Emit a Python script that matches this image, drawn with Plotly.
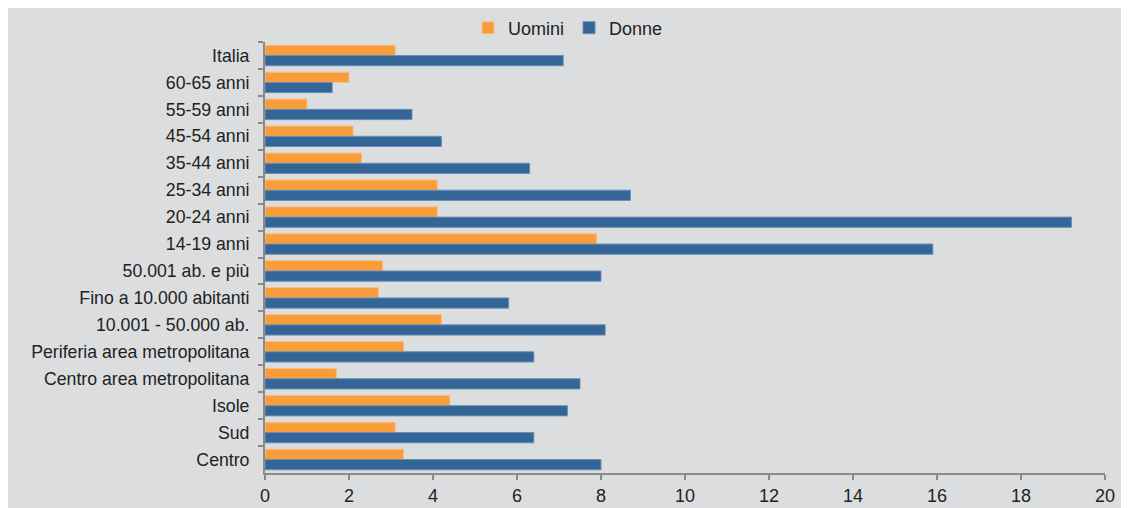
import plotly.graph_objects as go

categories = [
    "Italia", "60-65 anni", "55-59 anni", "45-54 anni", "35-44 anni",
    "25-34 anni", "20-24 anni", "14-19 anni", "50.001 ab. e più",
    "Fino a 10.000 abitanti", "10.001 - 50.000 ab.",
    "Periferia area metropolitana", "Centro area metropolitana",
    "Isole", "Sud", "Centro",
]
uomini = [3.1, 2.0, 1.0, 2.1, 2.3, 4.1, 4.1, 7.9, 2.8, 2.7, 4.2, 3.3, 1.7, 4.4, 3.1, 3.3]
donne = [7.1, 1.6, 3.5, 4.2, 6.3, 8.7, 19.2, 15.9, 8.0, 5.8, 8.1, 6.4, 7.5, 7.2, 6.4, 8.0]
x_ticks = [0, 2, 4, 6, 8, 10, 12, 14, 16, 18, 20]

BG = "#dcdddf"
ORANGE = "#f99d3a"
BLUE = "#336696"
AXIS = "#8a8a8a"
TXT = "#222222"
FONT = "Liberation Sans, Arial, sans-serif"

# page body has an 8px margin, so the figure starts at (8, 8);
# the figure is made large enough to reach the window's right/bottom edges
OFF = 8
W, H = 1129, 508
L = 265 - OFF
T = 42 - OFF
B = H - (473 - OFF)
R = W - (1105 - OFF)

fig = go.Figure()
fig.add_trace(go.Bar(
    y=categories, x=uomini, name="Uomini", orientation="h",
    marker=dict(color=ORANGE, line=dict(color="#fbbf80", width=1)),
))
fig.add_trace(go.Bar(
    y=categories, x=donne, name="Donne", orientation="h",
    marker=dict(color=BLUE, line=dict(color="#6a8fb5", width=1)),
))

fig.update_layout(
    width=W, height=H,
    margin=dict(l=L, r=R, t=T, b=B, autoexpand=False),
    paper_bgcolor=BG, plot_bgcolor=BG,
    barmode="group", bargap=0.24, bargroupgap=0,
    font=dict(family=FONT, size=18, color=TXT),
    showlegend=True,
    legend=dict(
        orientation="h", xref="container", yref="container",
        x=(568 - OFF) / W, y=1 - (28 - OFF) / H,
        xanchor="center", yanchor="middle",
        font=dict(size=18, color=TXT),
        bgcolor="rgba(0,0,0,0)", itemwidth=30,
    ),
    xaxis=dict(
        range=[0, 20], tickvals=x_ticks, showgrid=False, zeroline=False,
        showline=True, linecolor=AXIS, linewidth=2,
        ticks="outside", ticklen=5, tickcolor=AXIS, tickwidth=1.5,
        tickfont=dict(size=18, color=TXT),
    ),
    yaxis=dict(
        autorange="reversed", showgrid=False, zeroline=False,
        showline=True, linecolor=AXIS, linewidth=2,
        ticks="outside", ticklen=5, tickcolor=AXIS, tickwidth=1.5,
        tickson="boundaries",
        tickfont=dict(size=17.7, color=TXT),
        ticklabelstandoff=10,
    ),
)

fig.write_html("out.html")
